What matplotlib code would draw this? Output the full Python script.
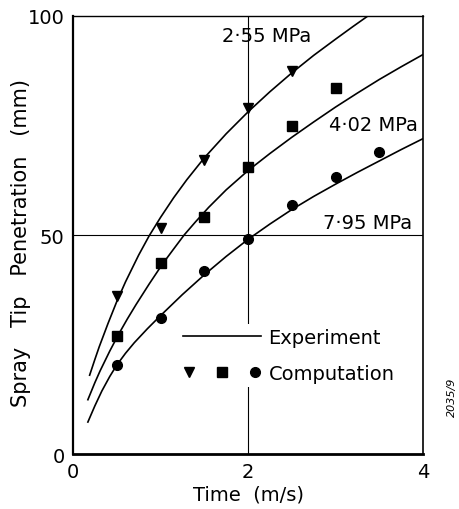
import numpy as np
import matplotlib
matplotlib.use("Agg")
import matplotlib.pyplot as plt
from matplotlib.lines import Line2D
from matplotlib.legend_handler import HandlerTuple

plt.rcParams["font.family"] = ["DejaVu Sans"]

# experiment curves (time, penetration)
t_255 = [0.19, 0.25, 0.30, 0.40, 0.50, 0.60, 0.75, 0.87, 1.0, 1.15, 1.3,
         1.5, 1.75, 2.0, 2.25, 2.5, 2.75, 3.0, 3.2, 3.37]
y_255 = [18.0, 21.6, 24.5, 29.8, 34.8, 39.3, 45.4, 49.8, 54.0, 58.5, 62.6,
         67.6, 73.1, 78.1, 82.7, 87.0, 91.0, 94.7, 97.6, 100.0]

t_402 = [0.17, 0.25, 0.31, 0.42, 0.52, 0.62, 0.72, 0.87, 1.02, 1.15, 1.27,
         1.4, 1.55, 1.75, 2.0, 2.25, 2.5, 2.75, 3.0, 3.25, 3.5, 3.75, 4.0]
y_402 = [12.4, 16.3, 19.0, 23.5, 27.3, 30.8, 34.1, 38.8, 43.3, 46.8, 50.0,
         53.0, 56.3, 60.3, 64.7, 68.6, 72.3, 75.8, 79.2, 82.4, 85.5, 88.4, 91.2]

t_795 = [0.17, 0.25, 0.33, 0.42, 0.50, 0.60, 0.70, 0.85, 0.99, 1.25, 1.5,
         1.75, 2.0, 2.25, 2.5, 2.75, 3.0, 3.25, 3.5, 3.75, 4.0]
y_795 = [7.3, 11.0, 14.4, 17.7, 20.3, 23.0, 25.4, 28.6, 31.4, 36.4, 40.9,
         45.1, 49.0, 52.5, 55.8, 58.8, 61.6, 64.3, 66.9, 69.5, 72.0]

# computation points
tri_t = [0.5, 1.0, 1.5, 2.0, 2.5]
tri_y = [36.0, 51.7, 67.1, 79.0, 87.5]
sq_t = [0.5, 1.0, 1.5, 2.0, 2.5, 3.0]
sq_y = [26.9, 43.5, 54.0, 65.6, 74.8, 83.5]
circ_t = [0.5, 1.0, 1.5, 2.0, 2.5, 3.0, 3.5]
circ_y = [20.4, 31.0, 41.8, 49.0, 56.8, 63.2, 69.0]

xticks = [0, 2, 4]
yticks = [0, 50, 100]
labels = ["2\u00b755 MPa", "4\u00b702 MPa", "7\u00b795 MPa"]

fig = plt.figure(figsize=(4.6, 5.1), dpi=100)
ax = fig.add_axes([0.1587, 0.1078, 0.7609, 0.8589])

ax.axvline(2, color="k", lw=0.8, zorder=1)
ax.axhline(50, color="k", lw=0.8, zorder=1)

lw = 1.2
ax.plot(t_255, y_255, color="k", lw=lw, zorder=2)
ax.plot(t_402, y_402, color="k", lw=lw, zorder=2)
ax.plot(t_795, y_795, color="k", lw=lw, zorder=2)

ax.plot(tri_t, tri_y, "v", color="k", ms=7.5, zorder=3)
ax.plot(sq_t, sq_y, "s", color="k", ms=7, zorder=3)
ax.plot(circ_t, circ_y, "o", color="k", ms=7, zorder=3)

ax.text(1.70, 95.5, labels[0], fontsize=14, ha="left", va="center")
ax.text(3.94, 75.2, labels[1], fontsize=14, ha="right", va="center")
ax.text(3.88, 52.9, labels[2], fontsize=14, ha="right", va="center")

ax.set_xlim(0, 4)
ax.set_ylim(0, 100)
ax.set_xticks(xticks)
ax.set_yticks(yticks)
ax.tick_params(length=0, pad=6, labelsize=14)
ax.set_xlabel("Time  (m/s)", fontsize=14, labelpad=2)
ax.set_ylabel("Spray   Tip   Penetration   (mm)", fontsize=15)
ax.yaxis.set_label_coords(-0.12, 0.485)

for side, w in [("bottom", 2.0), ("left", 1.6), ("top", 1.0), ("right", 1.2)]:
    ax.spines[side].set_linewidth(w)

h_exp = Line2D([], [], color="k", lw=lw)
h_tri = Line2D([], [], marker="v", ls="", color="k", ms=7.5)
h_sq = Line2D([], [], marker="s", ls="", color="k", ms=7)
h_c = Line2D([], [], marker="o", ls="", color="k", ms=7)
leg = ax.legend([h_exp, (h_tri, h_sq, h_c)], ["Experiment", "Computation"],
                handler_map={tuple: HandlerTuple(ndivide=None, pad=1.1)},
                loc="center left", bbox_to_anchor=(0.275, 0.225),
                fontsize=14, handlelength=4.0, handletextpad=0.4,
                labelspacing=0.85, borderpad=0.2, frameon=True,
                fancybox=False)
leg.get_frame().set_facecolor("white")
leg.get_frame().set_edgecolor("none")
leg.get_frame().set_alpha(1)

fig.text(0.982, 0.22, "2035/9", rotation=90, fontsize=8, style="italic",
         ha="center", va="center")

fig.savefig("out.png", dpi=100)
